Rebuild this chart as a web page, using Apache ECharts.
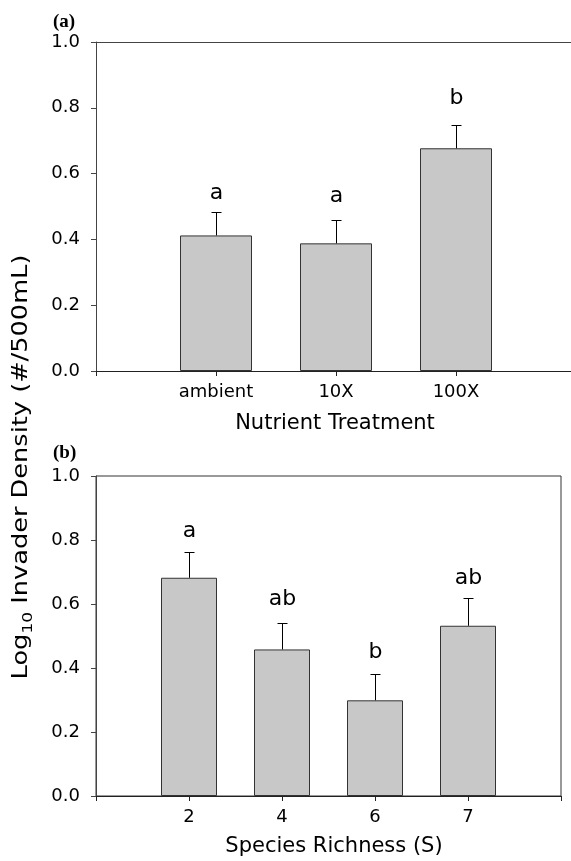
<!DOCTYPE html>
<html>
<head>
<meta charset="utf-8">
<script src="https://cdn.jsdelivr.net/npm/echarts@6/dist/echarts.min.js"></script>
<style>
html,body{margin:0;padding:0;background:#fff;overflow:hidden;}
#chart{width:571px;height:861px;}
</style>
</head>
<body>
<div id="chart"></div>
<script>
// ---- data ----
const nutrientCategories = ['ambient', '10X', '100X'];
const nutrientMeans = [0.412, 0.388, 0.677];
const nutrientSE = [0.072, 0.071, 0.072];
const nutrientLetters = ['a', 'a', 'b'];
const nutrientLetterY = [0.518, 0.510, 0.809];

const richnessCategories = ['2', '4', '6', '7'];
const richnessMeans = [0.682, 0.458, 0.299, 0.532];
const richnessSE = [0.081, 0.084, 0.082, 0.087];
const richnessLetters = ['a', 'ab', 'b', 'ab'];
const richnessLetterY = [0.805, 0.592, 0.427, 0.657];

const yTickMin = 0, yTickMax = 1.0, yTickStep = 0.2;

// ---- styling ----
const FONT = '"DejaVu Sans", sans-serif';
const BAR_FILL = '#c8c8c8';

// padded category lists (empty slots at both ends of each axis)
const topCats = [''].concat(nutrientCategories, ['']);
const botCats = [''].concat(richnessCategories, ['']);
const pad = arr => [null].concat(arr, [null]);

function errData(means, se) {
  return means.map((m, i) => [i + 1, m, m + se[i]]);
}

function makeErrRender(letters, letterY) {
  return function (params, api) {
    const x = api.value(0);
    const p0 = api.coord([x, api.value(1)]);
    const p1 = api.coord([x, api.value(2)]);
    const px = Math.round(p0[0]) + 0.5;
    const top = Math.round(p1[1]) + 0.5;
    const ly = api.coord([x, letterY[params.dataIndex]])[1];
    return {
      type: 'group',
      children: [
        { type: 'line', shape: { x1: px, y1: p0[1], x2: px, y2: top },
          style: { stroke: '#000', lineWidth: 1 } },
        { type: 'line', shape: { x1: px - 5, y1: top, x2: px + 5, y2: top },
          style: { stroke: '#000', lineWidth: 1 } },
        { type: 'text', x: px, y: ly - 7,
          style: { text: letters[params.dataIndex], fill: '#000',
                   font: '22px ' + FONT, align: 'center', verticalAlign: 'middle' } }
      ]
    };
  };
}

function xAxisFor(gridIndex, cats) {
  return {
    type: 'category', gridIndex: gridIndex, data: cats, boundaryGap: false,
    axisLine: { show: true, lineStyle: { color: '#222', width: 1 } },
    axisTick: { show: true, length: 5, inside: false, lineStyle: { color: '#222' } },
    axisLabel: { color: '#000', fontSize: 18, fontFamily: FONT, margin: 12, interval: 0 },
    splitLine: { show: false }
  };
}
function topSpine(gridIndex, cats) {
  return {
    type: 'category', gridIndex: gridIndex, data: cats, boundaryGap: false, position: 'top',
    axisLine: { show: true, onZero: false, lineStyle: { color: '#444', width: 1 } },
    axisTick: { show: false }, axisLabel: { show: false }, splitLine: { show: false }
  };
}
function yAxisFor(gridIndex) {
  return {
    type: 'value', gridIndex: gridIndex, min: yTickMin, max: yTickMax, interval: yTickStep,
    axisLine: { show: true, lineStyle: { color: '#444', width: 1 } },
    axisTick: { show: true, length: 5, inside: false, lineStyle: { color: '#444' } },
    axisLabel: { color: '#000', fontSize: 18, fontFamily: FONT, margin: 16,
                 formatter: v => v.toFixed(1) },
    splitLine: { show: false }
  };
}

const chart = echarts.init(document.getElementById('chart'), null, { renderer: 'canvas' });
chart.setOption({
  animation: false,
  backgroundColor: '#fff',
  grid: [
    { left: 96, top: 42, width: 480, height: 329, show: false,
      containLabel: false, outerBoundsMode: 'none' },
    { left: 96, top: 476, width: 465, height: 320, show: true, borderColor: '#333', borderWidth: 1,
      backgroundColor: 'transparent', containLabel: false, outerBoundsMode: 'none' }
  ],
  xAxis: [xAxisFor(0, topCats), xAxisFor(1, botCats), topSpine(0, topCats)],
  yAxis: [yAxisFor(0), yAxisFor(1)],
  series: [
    { type: 'bar', xAxisIndex: 0, yAxisIndex: 0, data: pad(nutrientMeans), barWidth: 72,
      itemStyle: { color: BAR_FILL, borderColor: '#333', borderWidth: 1 } },
    { type: 'custom', xAxisIndex: 0, yAxisIndex: 0, data: errData(nutrientMeans, nutrientSE),
      renderItem: makeErrRender(nutrientLetters, nutrientLetterY), z: 5 },
    { type: 'bar', xAxisIndex: 1, yAxisIndex: 1, data: pad(richnessMeans), barWidth: 56,
      itemStyle: { color: BAR_FILL, borderColor: '#333', borderWidth: 1 } },
    { type: 'custom', xAxisIndex: 1, yAxisIndex: 1, data: errData(richnessMeans, richnessSE),
      renderItem: makeErrRender(richnessLetters, richnessLetterY), z: 5 }
  ],
  graphic: [
    { type: 'text', x: 53, y: 13,
      style: { text: '(a)', fill: '#000', font: 'bold 19px "Liberation Serif", serif', align: 'left', verticalAlign: 'top' } },
    { type: 'text', x: 53, y: 444,
      style: { text: '(b)', fill: '#000', font: 'bold 19px "Liberation Serif", serif', align: 'left', verticalAlign: 'top' } },
    { type: 'text', x: 335, y: 424,
      style: { text: 'Nutrient Treatment', fill: '#000', font: '21px ' + FONT, align: 'center', verticalAlign: 'middle' } },
    { type: 'text', x: 334, y: 847,
      style: { text: 'Species Richness (S)', fill: '#000', font: '21px ' + FONT, align: 'center', verticalAlign: 'middle' } },
    { type: 'text', x: 22, y: 467, rotation: Math.PI / 2, scaleX: 1.22,
      style: {
        text: '{m|Log}{s|10}{m| Invader Density (#/500mL)}',
        align: 'center', verticalAlign: 'middle', fill: '#000',
        rich: {
          m: { fontSize: 21, fontFamily: FONT, lineHeight: 21, verticalAlign: 'top' },
          s: { fontSize: 14, fontFamily: FONT, lineHeight: 14, verticalAlign: 'top', padding: [10, 0, 0, 0] }
        }
      } }
  ]
});
</script>
</body>
</html>
